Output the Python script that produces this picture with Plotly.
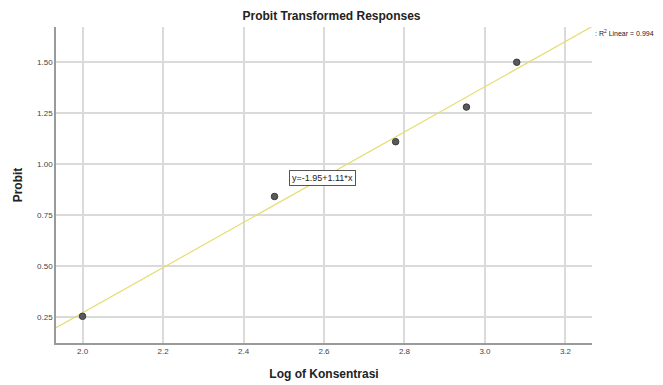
import plotly.graph_objects as go

# Data
log_conc = [2.0, 2.477, 2.778, 2.954, 3.079]
probit = [0.253, 0.841, 1.110, 1.280, 1.500]
intercept = -1.95
slope = 1.11
r2 = 0.994
x_ticks = [2.0, 2.2, 2.4, 2.6, 2.8, 3.0, 3.2]
y_ticks = [0.25, 0.50, 0.75, 1.00, 1.25, 1.50]
x_range = [1.934, 3.266]
y_range = [0.122, 1.673]

fit_x = x_range
fit_y = [intercept + slope * v for v in fit_x]

FONT = "Liberation Sans, Arial, sans-serif"

fig = go.Figure()
fig.add_trace(go.Scatter(
    x=fit_x, y=fit_y, mode="lines",
    line=dict(color="#e6dc70", width=1.2),
    hoverinfo="skip", showlegend=False,
))
fig.add_trace(go.Scatter(
    x=log_conc, y=probit, mode="markers",
    marker=dict(color="#5a5a5a", size=6.5, line=dict(color="#3a3a3a", width=1)),
    showlegend=False,
))

fig.add_annotation(
    x=2.597, y=0.933, xref="x", yref="y",
    text="y=-1.95+1.11*x", showarrow=False,
    font=dict(family=FONT, size=9, color="#222222"),
    bgcolor="white", bordercolor="#555555", borderwidth=1, borderpad=2,
)
fig.add_annotation(
    x=1.0, y=1.645, xref="paper", yref="y", xanchor="left", yanchor="middle",
    xshift=1,
    text=": R<sup>2</sup> Linear = %.3f" % r2, showarrow=False,
    font=dict(family=FONT, size=7, color="#222222"),
)

fig.update_layout(
    width=663, height=385,
    margin=dict(l=56, r=71, t=27, b=42, autoexpand=False),
    paper_bgcolor="white", plot_bgcolor="white",
    title=dict(text="<b>Probit Transformed Responses</b>", x=0.5, xanchor="center",
               y=1 - 16 / 385, yanchor="middle", automargin=False,
               font=dict(family=FONT, size=12, color="#222222")),
    font=dict(family=FONT, color="#333333"),
    xaxis=dict(
        range=x_range, tickvals=x_ticks, ticktext=["%.1f" % v for v in x_ticks],
        showgrid=True, gridcolor="#dadada", gridwidth=1.5,
        showline=True, linecolor="#9a9a9a", linewidth=1.5,
        ticks="", tickfont=dict(size=8, color="#444444"), automargin=False,
        title=dict(text="<b>Log of Konsentrasi</b>", font=dict(size=12, color="#222222"), standoff=14),
        zeroline=False, mirror=False,
    ),
    yaxis=dict(
        range=y_range, tickvals=y_ticks, ticktext=["%.2f" % v for v in y_ticks],
        showgrid=True, gridcolor="#dadada", gridwidth=1.5,
        showline=True, linecolor="#9a9a9a", linewidth=1.5,
        ticks="", tickfont=dict(size=8, color="#444444"), automargin=False,
        title=dict(text="<b>Probit</b>", font=dict(size=12, color="#222222"), standoff=12),
        zeroline=False,
    ),
)

fig.write_html("out.html", post_script="document.body.style.margin='0';",
               config={"displayModeBar": False})
